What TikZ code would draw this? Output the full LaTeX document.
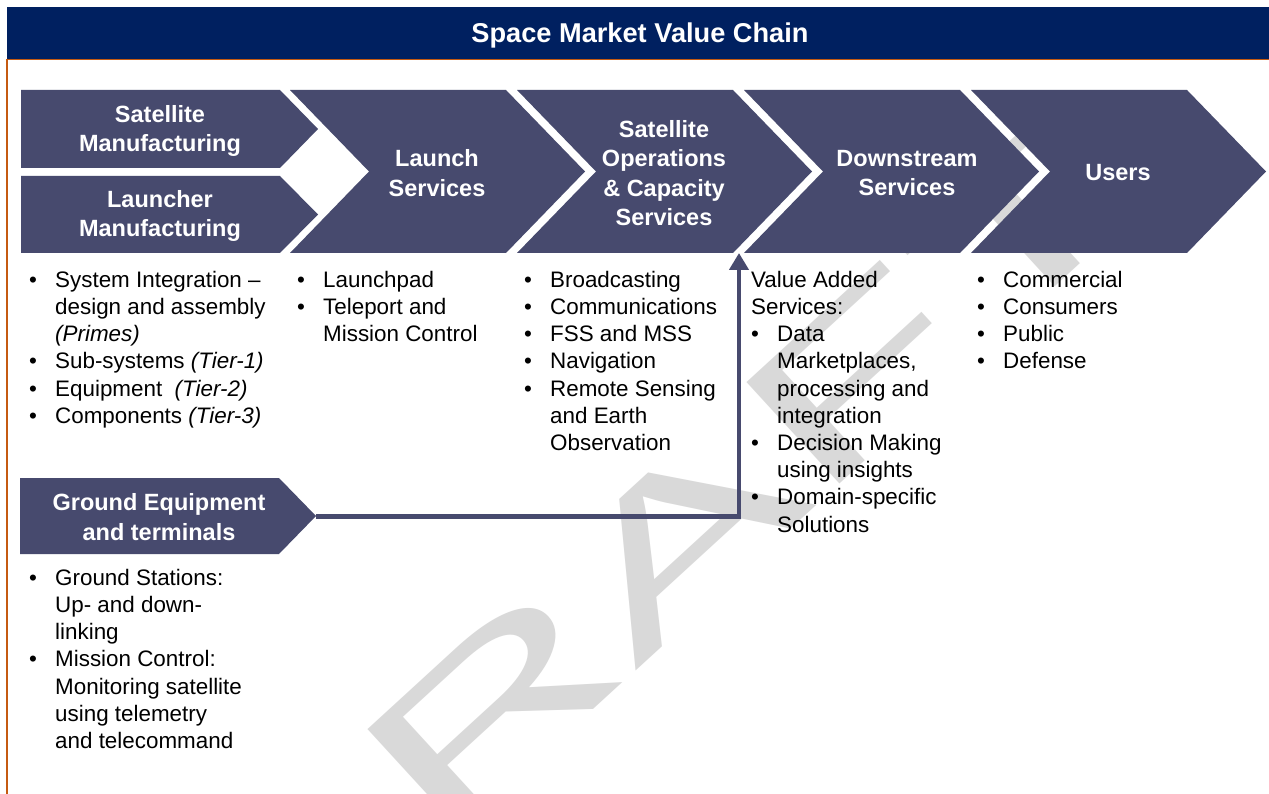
\documentclass[tikz,border=0pt]{standalone}
\usepackage{fontspec}
\setmainfont{Liberation Sans}
\usetikzlibrary{arrows.meta}

\definecolor{navy}{RGB}{0,32,96}
\definecolor{slate}{RGB}{71,74,110}
\definecolor{rust}{RGB}{197,90,17}
\definecolor{wmgray}{RGB}{217,217,217}

% bullet with hanging indent
\newcommand\bl{\makebox[26pt][l]{\textbullet}}
\newcommand\hg{\hspace*{26pt}}

\begin{document}
\begin{tikzpicture}[x=1pt,y=-1pt,
  stage/.style={fill=slate,draw=none},
  head/.style={text=white,font=\bfseries\fontsize{23.5}{29.3}\selectfont,align=center,inner sep=0},
  list/.style={anchor=north west,inner sep=0,align=left,font=\fontsize{22.4}{27.2}\selectfont},
]
\useasboundingbox (0,0) rectangle (1269,794);
\fill[white] (0,0) rectangle (1269,794);

% watermark, stretched and tilted
\node[rotate=42.5,text=wmgray,font=\fontsize{200}{200}\selectfont,inner sep=0] (wm) at (650,565)
  {\scalebox{1.85}[1]{DRAFT}};

% frame and title bar
\fill[navy] (7,7) rectangle (1269,59);
\draw[rust,line width=1.2pt] (7,794) -- (7,59.5) -- (1269,59.5);
\node[text=white,font=\bfseries\fontsize{27.2}{32}\selectfont] (title) at (640,35) {Space Market Value Chain};

% manufacturing boxes
\fill[stage] (21,90) -- (280,90) -- (318,129) -- (280,168) -- (21,168) -- cycle;
\fill[stage] (21,176) -- (280,176) -- (318,214.5) -- (280,253) -- (21,253) -- cycle;
% chevrons of the value chain
\foreach \i in {0,1,2,3}{
  \pgfmathsetmacro\L{290+227*\i}
  \fill[stage] (\L,90) -- ({\L+216},90) -- ({\L+295},171.5) -- ({\L+216},253)
    -- (\L,253) -- ({\L+79},171.5) -- cycle;
}
% ground segment box
\fill[stage] (20,478) -- (279,478) -- (316,516) -- (279,554) -- (20,554) -- cycle;
\coordinate (gtip) at (316,516.5);
\coordinate (opsfoot) at (739,253);

\node[head] (satman) at (160,131) {Satellite\\Manufacturing};
\node[head] (lnchman) at (160,216) {Launcher\\Manufacturing};
\node[head] (launch) at (437,173) {Launch\\Services};
\node[head] (ops) at (664,173) {Satellite\\Operations\\\& Capacity\\Services};
\node[head] (down) at (907,173) {Downstream\\Services};
\node[head] (users) at (1118,173) {Users};
\node[head] (ground) at (159,517) {Ground Equipment\\and terminals};

% ground segment feeds downstream
\draw[slate,line width=4.5pt,-{Triangle[width=19pt,length=17pt]}] (gtip) -| (opsfoot);

% lists
\node[list] (l1) at (29,268) {\strut\bl System Integration –\\\hg design and assembly\\\hg\textit{(Primes)}\\
  \bl Sub-systems \textit{(Tier-1)}\\\bl Equipment\ \ \textit{(Tier-2)}\\\bl Components \textit{(Tier-3)}};
\node[list] (l2) at (297,268) {\strut\bl Launchpad\\\bl Teleport and\\\hg Mission Control};
\node[list] (l3) at (524,268) {\strut\bl Broadcasting\\\bl Communications\\\bl FSS and MSS\\\bl Navigation\\
  \bl Remote Sensing\\\hg and Earth\\\hg Observation};
\node[list] (l4) at (751,268) {\strut Value Added\\Services:\\\bl Data\\\hg Marketplaces,\\\hg processing and\\\hg integration\\
  \bl Decision Making\\\hg using insights\\\bl Domain-specific\\\hg Solutions};
\node[list] (l5) at (977,268) {\strut\bl Commercial\\\bl Consumers\\\bl Public\\\bl Defense};
\node[list] (l6) at (29,566) {\strut\bl Ground Stations:\\\hg Up- and down-\\\hg linking\\\bl Mission Control:\\
  \hg Monitoring satellite\\\hg using telemetry\\\hg and telecommand};
\end{tikzpicture}
\end{document}
